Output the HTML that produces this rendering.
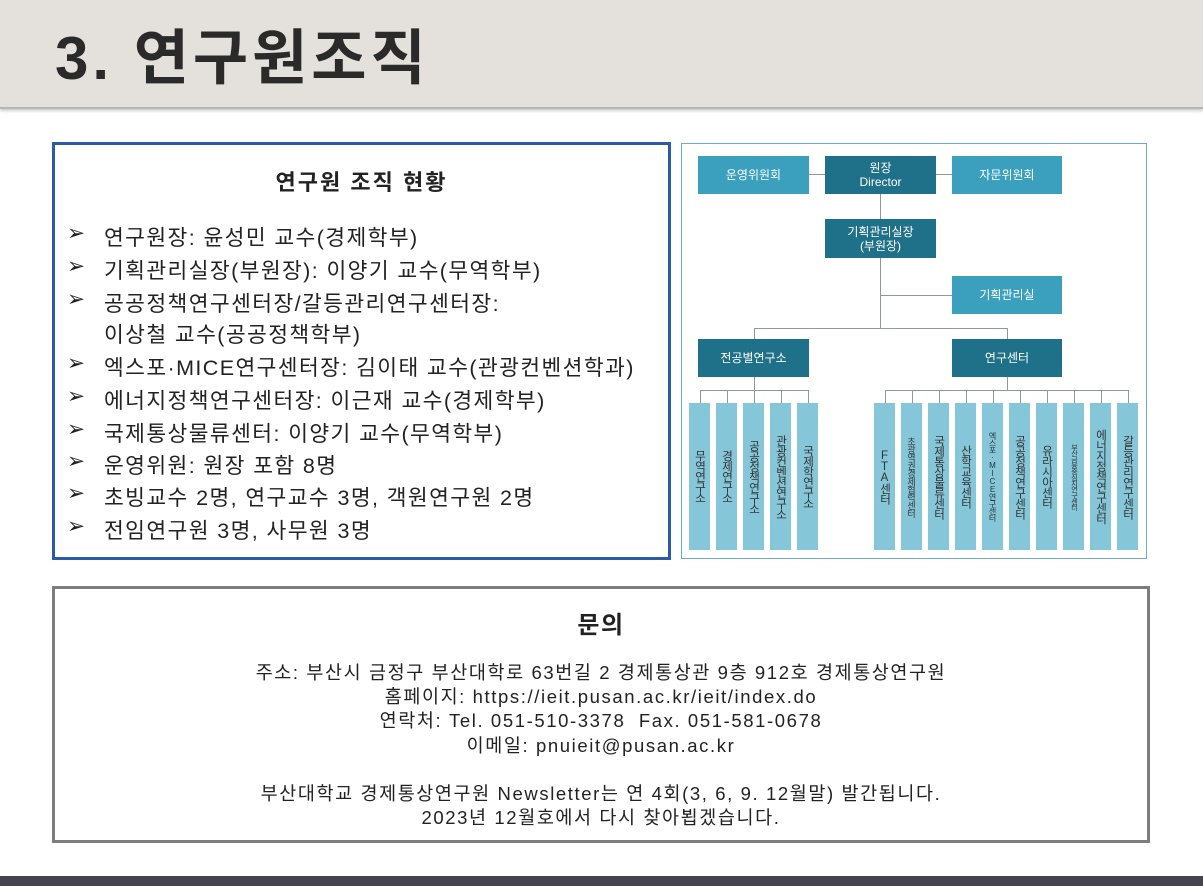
<!DOCTYPE html>
<html><head><meta charset="utf-8"><style>
body{margin:0;width:1203px;height:886px;position:relative;background:#fff;font-family:"Liberation Sans","Noto Sans CJK KR",sans-serif;overflow:hidden;color:#222}
.a{position:absolute}
.hdr{left:0;top:0;width:1203px;height:107px;background:#e4e1dc;border-bottom:2px solid #b8b6b2;box-shadow:0 2px 3px #ccc}
.title{left:55px;top:10px;font-size:60px;font-weight:bold;color:#2a2a2a;letter-spacing:4px}
.lbox{left:52px;top:142px;width:613px;height:412px;border:3px solid #2a5aa8}
.li{left:67px;font-size:21.5px;color:#222;white-space:nowrap;letter-spacing:1.4px}
.li b{font-weight:normal;position:absolute;left:0}
.li span{position:absolute;left:37px}
.bbox{left:52px;top:586px;width:1092px;height:251px;border:3px solid #7d7d7d}
.c{left:52px;width:1098px;text-align:center;font-size:18.5px;color:#222;letter-spacing:1.6px;white-space:nowrap}
.chart{left:681px;top:143px;width:464px;height:414px;border:1.5px solid #6fa8d8}
.bx{position:absolute;color:#fff;font-size:12px;text-align:center;display:flex;align-items:center;justify-content:center;line-height:14px}
.lt{background:#3aa0bd}.dk{background:#1f7189}
.lf{position:absolute;background:#85c6d9;width:21px;top:403px;height:147px;writing-mode:vertical-rl;text-orientation:upright;font-size:11.5px;color:#333;display:flex;align-items:center;justify-content:center;letter-spacing:-1px}
.ln{position:absolute;background:#8a9aa0}
.foot{left:0;top:876px;width:1203px;height:10px;background:#45454f}
</style></head><body>
<div class="a hdr"></div>
<div class="a title">3. 연구원조직</div>
<div class="a lbox"></div>
<div class="a" style="left:52px;width:619px;top:165px;text-align:center;font-size:22px;font-weight:bold;letter-spacing:2px">연구원 조직 현황</div>
<div class="a li" style="top:221px"><b>➢</b><span>연구원장: 윤성민 교수(경제학부)</span></div>
<div class="a li" style="top:254px"><b>➢</b><span>기획관리실장(부원장): 이양기 교수(무역학부)</span></div>
<div class="a li" style="top:287px"><b>➢</b><span>공공정책연구센터장/갈등관리연구센터장:</span></div>
<div class="a li" style="top:318px"><span>이상철 교수(공공정책학부)</span></div>
<div class="a li" style="top:351px"><b>➢</b><span>엑스포·MICE연구센터장: 김이태 교수(관광컨벤션학과)</span></div>
<div class="a li" style="top:384px"><b>➢</b><span>에너지정책연구센터장: 이근재 교수(경제학부)</span></div>
<div class="a li" style="top:417px"><b>➢</b><span>국제통상물류센터: 이양기 교수(무역학부)</span></div>
<div class="a li" style="top:449px"><b>➢</b><span>운영위원: 원장 포함 8명</span></div>
<div class="a li" style="top:481px"><b>➢</b><span>초빙교수 2명, 연구교수 3명, 객원연구원 2명</span></div>
<div class="a li" style="top:514px"><b>➢</b><span>전임연구원 3명, 사무원 3명</span></div>

<div class="a chart"></div>
<div class="ln" style="left:809px;top:174px;width:143px;height:1px"></div>
<div class="ln" style="left:880px;top:194px;width:1px;height:134px"></div>
<div class="ln" style="left:880px;top:295px;width:72px;height:1px"></div>
<div class="ln" style="left:754px;top:328px;width:253px;height:1px"></div>
<div class="ln" style="left:754px;top:328px;width:1px;height:11px"></div>
<div class="ln" style="left:1007px;top:328px;width:1px;height:11px"></div>
<div class="ln" style="left:754px;top:377px;width:1px;height:13px"></div>
<div class="ln" style="left:1007px;top:377px;width:1px;height:13px"></div>
<div class="ln" style="left:700px;top:390px;width:108px;height:1px"></div>
<div class="ln" style="left:885px;top:390px;width:243px;height:1px"></div>
<div class="bx lt" style="left:698px;top:156px;width:111px;height:38px">운영위원회</div>
<div class="bx dk" style="left:825px;top:156px;width:111px;height:38px">원장<br>Director</div>
<div class="bx lt" style="left:952px;top:156px;width:110px;height:38px">자문위원회</div>
<div class="bx dk" style="left:825px;top:219px;width:111px;height:39px">기획관리실장<br>(부원장)</div>
<div class="bx lt" style="left:952px;top:276px;width:110px;height:38px">기획관리실</div>
<div class="bx dk" style="left:698px;top:339px;width:111px;height:38px">전공별연구소</div>
<div class="bx dk" style="left:952px;top:339px;width:110px;height:38px">연구센터</div>
<div class="ln" style="left:700px;top:390px;width:1px;height:13px"></div>
<div class="ln" style="left:727px;top:390px;width:1px;height:13px"></div>
<div class="ln" style="left:754px;top:390px;width:1px;height:13px"></div>
<div class="ln" style="left:781px;top:390px;width:1px;height:13px"></div>
<div class="ln" style="left:808px;top:390px;width:1px;height:13px"></div>
<div class="lf" style="left:689px">무역연구소</div>
<div class="lf" style="left:716px">경제연구소</div>
<div class="lf" style="left:743px">공공정책연구소</div>
<div class="lf" style="left:770px">관광컨벤션연구소</div>
<div class="lf" style="left:797px">국제학연구소</div>
<div class="ln" style="left:885px;top:390px;width:1px;height:13px"></div>
<div class="ln" style="left:912px;top:390px;width:1px;height:13px"></div>
<div class="ln" style="left:939px;top:390px;width:1px;height:13px"></div>
<div class="ln" style="left:966px;top:390px;width:1px;height:13px"></div>
<div class="ln" style="left:993px;top:390px;width:1px;height:13px"></div>
<div class="ln" style="left:1020px;top:390px;width:1px;height:13px"></div>
<div class="ln" style="left:1047px;top:390px;width:1px;height:13px"></div>
<div class="ln" style="left:1074px;top:390px;width:1px;height:13px"></div>
<div class="ln" style="left:1101px;top:390px;width:1px;height:13px"></div>
<div class="ln" style="left:1128px;top:390px;width:1px;height:13px"></div>
<div class="lf" style="left:874px">FTA센터</div>
<div class="lf" style="left:901px;font-size:9px">초광역권경제협력센터</div>
<div class="lf" style="left:928px">국제통상물류센터</div>
<div class="lf" style="left:955px">산학교육센터</div>
<div class="lf" style="left:982px;font-size:8px">엑스포·MICE연구센터</div>
<div class="lf" style="left:1009px">공공정책연구센터</div>
<div class="lf" style="left:1036px">유라시아센터</div>
<div class="lf" style="left:1063px;font-size:7px">부산금융중심지연구센터</div>
<div class="lf" style="left:1090px">에너지정책연구센터</div>
<div class="lf" style="left:1117px">갈등관리연구센터</div>

<div class="a bbox"></div>
<div class="a c" style="top:605px;font-size:24px;font-weight:bold">문의</div>
<div class="a c" style="top:659px">주소: 부산시 금정구 부산대학로 63번길 2 경제통상관 9층 912호 경제통상연구원</div>
<div class="a c" style="top:683px">홈페이지: https://ieit.pusan.ac.kr/ieit/index.do</div>
<div class="a c" style="top:707px">연락처: Tel. 051-510-3378&nbsp;&nbsp;Fax. 051-581-0678</div>
<div class="a c" style="top:732px">이메일: pnuieit@pusan.ac.kr</div>
<div class="a c" style="top:780px">부산대학교 경제통상연구원 Newsletter는 연 4회(3, 6, 9. 12월말) 발간됩니다.</div>
<div class="a c" style="top:804px">2023년 12월호에서 다시 찾아뵙겠습니다.</div>
<div class="a foot"></div>
</body></html>
